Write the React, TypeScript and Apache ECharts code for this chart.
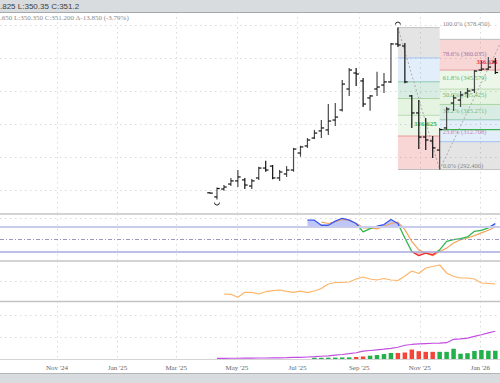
import React, { useEffect, useRef } from "react";
import * as echarts from "echarts";

// ---------- data ----------
const DATES = [
  "2025-04-04","2025-04-11","2025-04-18","2025-04-25","2025-05-02","2025-05-09","2025-05-16","2025-05-23","2025-05-30",
  "2025-06-06","2025-06-13","2025-06-20","2025-06-27","2025-07-04","2025-07-11","2025-07-18","2025-07-25",
  "2025-08-01","2025-08-08","2025-08-15","2025-08-22","2025-08-29","2025-09-05","2025-09-12","2025-09-19","2025-09-26",
  "2025-10-03","2025-10-10","2025-10-17","2025-10-24","2025-10-31","2025-11-07","2025-11-14","2025-11-21","2025-11-28",
  "2025-12-05","2025-12-12","2025-12-19","2025-12-26","2026-01-02","2026-01-09","2026-01-16",
];
const OPEN = [278.3,275.8,280.6,283.6,285.5,286.1,282.4,287.3,293.3,294.5,287.3,289.7,292.1,302.4,306.7,311.5,315.8,316.4,322.4,328.5,341.2,350.9,346.1,335.8,341.2,343.6,345.5,368.5,367.3,337.0,326.7,312.1,309.7,304.2,317.6,332.7,334.5,338.8,340.6,352.7,353.3,357.6];
const HIGH = [278.5,281.5,283.0,287.3,292.1,287.3,286.7,294.1,297.8,295.2,292.1,294.5,305.5,306.8,311.5,316.4,322.4,332.1,332.7,346.7,353.9,353.9,347.9,337.6,351.7,350.9,369.1,378.45,369.1,337.6,334.5,323.6,312.7,317.6,330.3,337.6,340.0,341.8,352.7,358.2,360.6,360.0];
const LOW = [277.9,274.2,279.6,282.4,281.8,280.6,280.6,286.1,291.1,286.5,285.5,287.9,291.1,300.2,305.5,310.9,311.5,313.3,318.8,327.5,337.0,343.0,330.3,328.1,337.0,338.8,344.9,366.7,344.7,317.6,304.8,304.2,299.4,292.4,316.4,327.9,330.3,335.8,338.8,352.1,352.7,350.35];
const CLOSE = [278.1,280.9,281.8,285.5,287.9,283.0,285.5,293.3,292.1,287.3,290.9,292.1,304.8,306.1,310.3,314.5,317.6,321.8,324.2,344.2,352.7,350.3,332.1,337.0,342.4,345.5,368.5,367.9,345.5,326.7,312.1,310.3,305.5,316.625,329.1,335.8,337.6,340.0,352.1,353.3,354.5,351.2];

const STOCH_K_START = 14;
const STOCH_K = [95.0,95.0,83.0,83.0,92.6,99.5,95.0,87.1,67.2,75.1,80.6,84.7,96.7,87.1,52.8,20.6,11.0,16.8,12.7,24.7,44.6,48.7,51.1,55.2,68.6,71.0,76.8,87.1];
const STOCH_D_START = 16;
const STOCH_D = [90.2,87.1,91.2,96.7,95.0,87.1,76.8,76.8,74.4,80.6,87.1,90.2,72.7,44.6,24.7,16.8,11.0,20.6,28.8,40.8,48.7,52.8,58.3,64.8,71.0,79.2];
const STOCH_LEVELS = [80, 50, 20];

const ORANGE_START = 2;
const ORANGE = [7,6.7,3.7,8.7,8.7,7,9.3,10.3,11,9.7,8.7,9.8,8.3,10,12.5,17,18.5,18.7,19,22,24,22,21,22.5,21,20.5,25,30,27.5,33,34.5,36,28,24.5,23,23,22,18,17.7,17];

const VOL_START = 15;
const VOLUME = [1.1,1.1,1.2,1.3,1.4,1.5,1.8,2.3,3.0,3.6,4.5,5.5,5.5,5.9,8.6,7.1,6.5,6.5,6.5,6.5,9.3,4.8,5.3,7.3,8.2,7.5,7.5];
const VOLUME_UP = [1,1,1,1,1,1,0,0,1,1,1,1,0,0,0,0,0,0,1,1,1,1,1,1,1,1,1];
const PURPLE_START = 1;
const PURPLE = [0.6,0.6,0.7,0.7,0.8,0.8,0.9,0.9,1.0,1.1,1.2,1.4,1.5,1.8,2.1,2.5,2.9,3.5,4.1,4.8,5.7,7.1,7.7,8.3,8.9,9.7,10.7,12.5,13.2,13.7,14.0,14.3,14.5,14.8,17.9,18.3,18.9,20.5,22.0,23.7,25.2];

const MONTH_TICKS = ["2024-11-01","2025-01-01","2025-03-01","2025-05-01","2025-07-01","2025-09-01","2025-11-01","2026-01-01"];
const MONTH_LABELS = ["Nov '24","Jan '25","Mar '25","May '25","Jul '25","Sep '25","Nov '25","Jan '26"];
const PRICE_TICKS = [280, 300, 320, 340, 360, 380];
const STOCH_TICKS = [100];
const ORANGE_TICKS = [20];
const VOLUME_TICKS = [20, 40];

const FIB_RATIOS = [0, 0.236, 0.382, 0.5, 0.618, 0.786, 1];
const FIB1 = { start: "2025-10-10", end: "2025-11-21", p0: 292.4, p100: 378.45 };
const FIB2 = { start: "2025-11-21", end: "2026-01-23", p0: 371.3, p100: 292.4 };
const GREEN_LEVEL = { start: "2025-11-21", end: "2026-01-23", price: 316.625 };
const RED_LEVEL = { date: "2025-12-28", price: 356.625 };

const HEADER1 = ".825 L:350.35 C:351.2";
const HEADER2 = ".650 L:350.350 C:351.200 \u0394-13.850 (-3.79%)";

// ---------- styles ----------
const BAND_FILLS = [
  "rgba(225,70,70,0.22)",
  "rgba(110,190,90,0.13)",
  "rgba(110,190,90,0.18)",
  "rgba(60,160,120,0.2)",
  "rgba(100,160,235,0.18)",
  "rgba(120,120,120,0.2)",
];
const LEVEL_COLORS = ["#bdbdbd", "#e89a9a", "#b9ddb2", "#a9d6a2", "#8fc8b4", "#a4c3ee", "#c4c4c4"];
const LABEL_COLORS = ["#8a8a8a", "#e07aa0", "#7fbf88", "#6ab57a", "#5fb36f", "#8a86c0", "#8a8a8a"];
const GRID_DOT = { color: "#dadada", type: [1.5, 3.5] as any, width: 1 };

const ts = (s: string) => {
  const [y, m, d] = s.split("-").map(Number);
  return Date.UTC(y, m - 1, d);
};
const X_MIN = Date.UTC(2024, 8, 4, 17);
const X_MAX = Date.UTC(2026, 0, 20, 17);
const MONTH_TS = MONTH_TICKS.map(ts);

const maxHigh = Math.max(...HIGH);
const minLow = Math.min(...LOW);

const ohlcData = DATES.map((d, i) => [ts(d), OPEN[i], HIGH[i], LOW[i], CLOSE[i]]);
const slice = (start: number, arr: number[]) => arr.map((v, i) => [ts(DATES[start + i]), v]);
const kData = slice(STOCH_K_START, STOCH_K);
const kAbove = slice(STOCH_K_START, STOCH_K.map((v) => Math.max(v, STOCH_LEVELS[0])));
const kBelow = slice(STOCH_K_START, STOCH_K.map((v) => Math.min(v, STOCH_LEVELS[2])));
const dData = slice(STOCH_D_START, STOCH_D);
const orangeData = slice(ORANGE_START, ORANGE);
const volData = VOLUME.map((v, i) => ({
  value: [ts(DATES[VOL_START + i]), v],
  itemStyle: { color: VOLUME_UP[i] ? "#22b04a" : "#f2463a" },
}));
const purpleData = slice(PURPLE_START, PURPLE);

const xAxis = (gridIndex: number, showLabels: boolean) => ({
  type: "value",
  gridIndex,
  min: X_MIN,
  max: X_MAX,
  axisLine: { show: showLabels, onZero: false, lineStyle: { color: "#d4d4d4", width: 1 } },
  axisTick: { show: false, customValues: MONTH_TS },
  axisLabel: {
    show: showLabels,
    customValues: MONTH_TS,
    formatter: (val: number) => {
      const idx = MONTH_TS.findIndex((t) => Math.abs(t - val) < 86400000);
      return idx >= 0 ? MONTH_LABELS[idx] : "";
    },
    fontSize: 7,
    color: "#666",
    fontFamily: "Liberation Serif",
    margin: 5,
  },
  splitLine: { show: true, lineStyle: GRID_DOT },
});
const yAxis = (gridIndex: number, min: number, max: number, ticks: number[]) => ({
  type: "value",
  gridIndex,
  min,
  max,
  axisLine: { show: false },
  axisLabel: { show: false },
  axisTick: { show: false, customValues: ticks },
  splitLine: { show: true, lineStyle: GRID_DOT },
});

const fibRender = (params: any, api: any) => {
  const children: any[] = [];
  const C = (t: number, p: number) => api.coord([t, p]);
  [FIB1, FIB2].forEach((fib, fi) => {
    const t1 = ts(fib.start);
    const t2 = ts(fib.end);
    const price = (r: number) => fib.p0 + r * (fib.p100 - fib.p0);
    const x1 = C(t1, fib.p0)[0];
    const x2 = C(t2, fib.p0)[0];
    for (let k = 0; k < FIB_RATIOS.length - 1; k++) {
      const ya = C(t1, price(FIB_RATIOS[k]))[1];
      const yb = C(t1, price(FIB_RATIOS[k + 1]))[1];
      children.push({
        type: "rect",
        shape: { x: x1, y: Math.min(ya, yb), width: x2 - x1, height: Math.abs(yb - ya) },
        style: { fill: BAND_FILLS[k] },
      });
    }
    FIB_RATIOS.forEach((r, k) => {
      const y = C(t1, price(r))[1];
      children.push({
        type: "line",
        shape: { x1, y1: y, x2, y2: y },
        style: { stroke: LEVEL_COLORS[k], lineWidth: 1 },
      });
      if (fi === 0) {
        children.push({
          type: "text",
          x: x2 + 3,
          y: y - 4.5,
          style: {
            text: `${(r * 100).toFixed(1)}% (${price(r).toFixed(3)})`,
            fill: LABEL_COLORS[k],
            fontSize: 6.5,
            fontFamily: "Liberation Serif",
            align: "left",
            verticalAlign: "middle",
          },
        });
      }
    });
    const a = C(t1, fib.p100);
    const b = C(t2, fib.p0);
    children.push({
      type: "line",
      shape: { x1: a[0], y1: a[1], x2: b[0], y2: b[1] },
      style: { stroke: "#9a9a9a", lineWidth: 0.8, lineDash: [2, 2] },
    });
  });
  const g1 = C(ts(GREEN_LEVEL.start), GREEN_LEVEL.price);
  const g2 = C(ts(GREEN_LEVEL.end), GREEN_LEVEL.price);
  children.push({
    type: "line",
    shape: { x1: g1[0], y1: g1[1], x2: g2[0], y2: g2[1] },
    style: { stroke: "#3cb34a", lineWidth: 1.2 },
  });
  children.push({
    type: "text",
    x: g1[0] - 3,
    y: g1[1] - 6,
    style: {
      text: GREEN_LEVEL.price.toFixed(3),
      fill: "#3cb34a",
      fontSize: 7,
      fontWeight: "bold",
      fontFamily: "Liberation Serif",
      align: "right",
      verticalAlign: "middle",
    },
  });
  const r1 = C(ts(RED_LEVEL.date), RED_LEVEL.price);
  children.push({
    type: "text",
    x: r1[0],
    y: r1[1] - 2,
    style: {
      text: RED_LEVEL.price.toFixed(3),
      fill: "#e8303a",
      fontSize: 6.5,
      fontWeight: "bold",
      fontFamily: "Liberation Serif",
      align: "left",
      verticalAlign: "middle",
    },
  });
  return { type: "group", children };
};

const ohlcRender = (params: any, api: any) => {
  const t = api.value(0);
  const o = api.value(1), h = api.value(2), l = api.value(3), c = api.value(4);
  const pO = api.coord([t, o]);
  const x = pO[0];
  const yO = pO[1];
  const yH = api.coord([t, h])[1];
  const yL = api.coord([t, l])[1];
  const yC = api.coord([t, c])[1];
  const color = c >= o ? "#4a4a4a" : "#111";
  const st = { stroke: color, lineWidth: 1.2 };
  const children: any[] = [
    { type: "line", shape: { x1: x, y1: yH, x2: x, y2: yL }, style: st },
    { type: "line", shape: { x1: x - 2.8, y1: yO, x2: x, y2: yO }, style: { stroke: "#111", lineWidth: 1.2 } },
    { type: "line", shape: { x1: x, y1: yC, x2: x + 2.8, y2: yC }, style: { stroke: "#111", lineWidth: 1.2 } },
  ];
  if (h === maxHigh) {
    children.push({
      type: "arc",
      shape: { cx: x, cy: yH - 3, r: 2.5, startAngle: Math.PI, endAngle: 2 * Math.PI },
      style: { stroke: "#222", fill: "none", lineWidth: 1 },
    });
  }
  if (l === minLow) {
    children.push({
      type: "arc",
      shape: { cx: x, cy: yL + 3, r: 2.5, startAngle: 0, endAngle: Math.PI },
      style: { stroke: "#222", fill: "none", lineWidth: 1 },
    });
  }
  return { type: "group", children };
};

const option: any = {
  animation: false,
  backgroundColor: "#ffffff",
  textStyle: { fontFamily: "Liberation Serif" },
  grid: [
    { left: 0, right: 0, top: 12, height: 202, containLabel: false },
    { left: 0, right: 0, top: 214, height: 47, containLabel: false },
    { left: 0, right: 0, top: 261, height: 40, containLabel: false },
    { left: 0, right: 0, top: 301, height: 58, containLabel: false },
  ],
  xAxis: [xAxis(0, false), xAxis(1, false), xAxis(2, false), xAxis(3, true)],
  yAxis: [
    yAxis(0, 265.45, 387.88, PRICE_TICKS),
    yAxis(1, -1.7, 109.6, STOCH_TICKS),
    yAxis(2, 0, 40, ORANGE_TICKS),
    yAxis(3, 0, 52.7, VOLUME_TICKS),
  ],
  visualMap: [
    {
      type: "piecewise",
      show: false,
      seriesIndex: 5,
      dimension: 1,
      pieces: [
        { lt: 20, color: "#ee3030" },
        { gte: 20, lte: 80, color: "#2db84d" },
        { gt: 80, color: "#3a55ee" },
      ],
    },
  ],
  series: [
    {
      type: "custom",
      name: "fib",
      xAxisIndex: 0,
      yAxisIndex: 0,
      clip: true,
      z: 1,
      silent: true,
      renderItem: fibRender,
      data: [[ts(FIB1.start), FIB1.p0]],
    },
    {
      type: "custom",
      name: "ohlc",
      xAxisIndex: 0,
      yAxisIndex: 0,
      clip: true,
      z: 3,
      silent: true,
      renderItem: ohlcRender,
      encode: { x: 0, y: [1, 2, 3, 4] },
      data: ohlcData,
    },
    {
      type: "line",
      xAxisIndex: 1,
      yAxisIndex: 1,
      data: kAbove,
      symbol: "none",
      silent: true,
      lineStyle: { width: 0, opacity: 0 },
      areaStyle: { origin: STOCH_LEVELS[0], color: "rgba(70,95,235,0.5)" },
      z: 1,
      markLine: {
        silent: true,
        symbol: ["none", "none"],
        label: { show: false },
        data: [
          { yAxis: STOCH_LEVELS[0], lineStyle: { color: "#c9cbea", width: 2, type: "solid" } },
          { yAxis: STOCH_LEVELS[1], lineStyle: { color: "#9a98c0", width: 1, type: [4, 2, 1, 2] } },
          { yAxis: STOCH_LEVELS[2], lineStyle: { color: "#a6abe0", width: 1.5, type: "solid" } },
        ],
      },
    },
    {
      type: "line",
      xAxisIndex: 1,
      yAxisIndex: 1,
      data: kBelow,
      symbol: "none",
      silent: true,
      lineStyle: { width: 0, opacity: 0 },
      areaStyle: { origin: STOCH_LEVELS[2], color: "rgba(240,60,60,0.45)" },
      z: 1,
    },
    {
      type: "line",
      xAxisIndex: 1,
      yAxisIndex: 1,
      data: dData,
      symbol: "none",
      silent: true,
      lineStyle: { color: "#f5a35d", width: 1.2 },
      z: 2,
    },
    {
      type: "line",
      xAxisIndex: 1,
      yAxisIndex: 1,
      data: kData,
      symbol: "none",
      silent: true,
      lineStyle: { width: 1.3 },
      z: 3,
    },
    {
      type: "line",
      xAxisIndex: 2,
      yAxisIndex: 2,
      data: orangeData,
      symbol: "none",
      silent: true,
      lineStyle: { color: "#fdb56a", width: 1.2 },
    },
    {
      type: "bar",
      xAxisIndex: 3,
      yAxisIndex: 3,
      data: volData,
      barWidth: 4.5,
      silent: true,
    },
    {
      type: "line",
      xAxisIndex: 3,
      yAxisIndex: 3,
      data: purpleData,
      symbol: "none",
      silent: true,
      lineStyle: { color: "#c24fe0", width: 1.2 },
      z: 4,
    },
  ],
  graphic: [
    { type: "rect", z: 100, shape: { x: 0, y: 0, width: 500, height: 12 }, style: { fill: "#d9dcdf" } },
    { type: "line", z: 100, shape: { x1: 0, y1: 12.5, x2: 500, y2: 12.5 }, style: { stroke: "#a6a9ac", lineWidth: 1 } },
    {
      type: "text", z: 101, x: 0, y: 6,
      style: { text: HEADER1, fill: "#3c3c3c", fontSize: 8, fontFamily: "Liberation Sans", align: "left", verticalAlign: "middle" },
    },
    {
      type: "text", z: 101, x: 0, y: 17.5,
      style: { text: HEADER2, fill: "#8a8a8a", fontSize: 7, fontFamily: "Liberation Serif", align: "left", verticalAlign: "middle" },
    },
    { type: "line", z: 100, shape: { x1: 0, y1: 214, x2: 500, y2: 214 }, style: { stroke: "#d3d3d3", lineWidth: 2 } },
    { type: "line", z: 100, shape: { x1: 0, y1: 261, x2: 500, y2: 261 }, style: { stroke: "#d3d3d3", lineWidth: 2 } },
    { type: "line", z: 100, shape: { x1: 0, y1: 301.5, x2: 500, y2: 301.5 }, style: { stroke: "#c2c2c2", lineWidth: 1.5 } },
    { type: "rect", z: 100, shape: { x: 0, y: 373, width: 500, height: 10 }, style: { fill: "#d9dcdf" } },
    { type: "line", z: 100, shape: { x1: 0, y1: 373.5, x2: 500, y2: 373.5 }, style: { stroke: "#b3b6b9", lineWidth: 1 } },
  ],
};

export default function App() {
  const ref = useRef<HTMLDivElement>(null);
  useEffect(() => {
    if (!ref.current) return;
    const chart = echarts.init(ref.current, null, { renderer: "svg" });
    chart.setOption(option);
    return () => chart.dispose();
  }, []);
  return <div ref={ref} style={{ position: "fixed", left: 0, top: 0, width: 500, height: 383 }} />;
}
